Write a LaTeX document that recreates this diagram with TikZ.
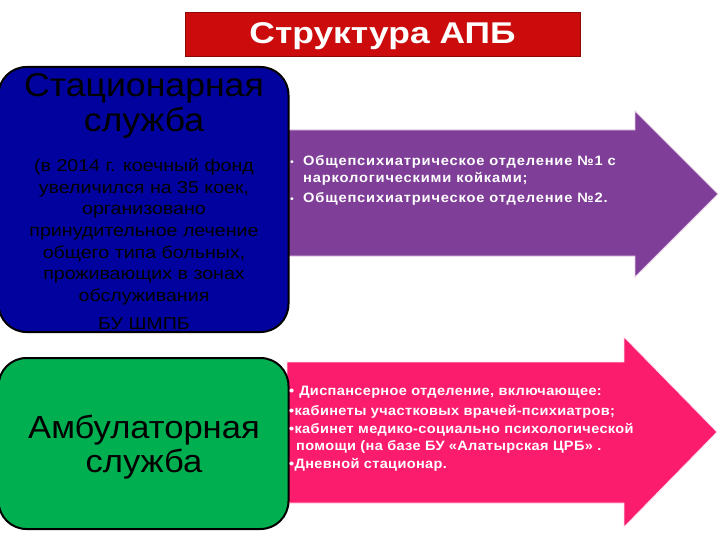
\documentclass[tikz,border=0pt]{standalone}
\usepackage{fontspec}
\setmainfont[FakeStretch=1.08]{Liberation Sans}
\newfontfamily\widefont[FakeStretch=1.18]{Liberation Sans}
\newfontfamily\bodyfont[FakeStretch=1.14]{Liberation Sans}
\newfontfamily\listfont[FakeStretch=1.07,LetterSpace=2.5]{Liberation Sans}
\newfontfamily\spacedfont[FakeStretch=1.08,LetterSpace=6]{Liberation Sans}
\definecolor{titlered}{RGB}{204,12,12}
\definecolor{boxblue}{RGB}{2,2,158}
\definecolor{arrowpurple}{RGB}{127,63,152}
\definecolor{arrowpink}{RGB}{252,28,110}
\definecolor{boxgreen}{RGB}{0,176,80}
\begin{document}
\begin{tikzpicture}[x=1pt,y=-1pt,
  servicebox/.style={draw=black, line width=2pt, rounded corners=28pt, inner sep=0pt},
  bigtext/.style={align=center, font=\fontsize{33}{35}\selectfont, text=black},
  listtext/.style={align=left, anchor=north west, text=white, inner sep=0pt, font=\listfont\bfseries\fontsize{13.6}{17.5}\selectfont},
  arrowshape/.style={draw=white!80!violet, line width=0.8pt}
]
\useasboundingbox (0,0) rectangle (720,540);
\fill[white] (0,0) rectangle (720,540);

% title
\node[fill=titlered, draw=titlered!70!black, line width=0.6pt, minimum width=395pt, minimum height=44pt, inner sep=0pt] (title) at (382.5,34) {};
\node[text=white, font=\widefont\bfseries\fontsize{30}{32}\selectfont, inner sep=0pt] (titletext) at (382.5,36) {Структура АПБ};

% purple arrow
\path[fill=arrowpurple, arrowshape] (285,130) -- (635,130) -- (635,111) -- (718,194) -- (635,277) -- (635,256) -- (285,256) -- cycle;
% pink arrow
\path[fill=arrowpink, arrowshape, draw=white!85!arrowpink] (287,362) -- (624,362) -- (624,337) -- (717,432) -- (624,527) -- (624,503) -- (287,503) -- cycle;

% stationary service box
\node[servicebox, fill=boxblue, minimum width=290pt, minimum height=265pt] (stat) at (143.5,199.5) {};
\node[bigtext] (stathead) at (144,106) {Стационарная\\служба};
\node[align=center, text=black, font=\bodyfont\fontsize{17.2}{21.7}\selectfont] (statbody) at (144,232)
  {(в 2014 г. коечный фонд\\увеличился на 35 коек,\\организовано\\принудительное лечение\\общего типа больных,\\проживающих в зонах\\обслуживания};
\node[text=black, font=\bodyfont\fontsize{17.2}{20}\selectfont, inner sep=0pt] (statbu) at (144,324) {БУ ШМПБ};

% ambulatory service box
\node[servicebox, fill=boxgreen, minimum width=290pt, minimum height=171pt] (amb) at (143.5,443.5) {};
\node[bigtext, font=\fontsize{32}{34}\selectfont] (ambhead) at (144,447) {Амбулаторная\\служба};

% purple list
\node[listtext, font=\spacedfont\bfseries\fontsize{13.6}{17.5}\selectfont] (statlist) at (290,155)
  {\makebox[13pt][l]{\normalfont\fontsize{10}{10}\selectfont•}Общепсихиатрическое отделение №1 с\\
   \hspace*{13pt}наркологическими койками;\\[2.5pt]
   \makebox[13pt][l]{\normalfont\fontsize{10}{10}\selectfont•}Общепсихиатрическое отделение №2.};

% pink list
\node[listtext] (amblist) at (289,386)
  {•\hspace{5pt}Диспансерное отделение, включающее:\\[2.5pt]
   •кабинеты участковых врачей-психиатров;\\
   •кабинет медико-социально психологической\\
   \hspace*{7pt}помощи (на базе БУ «Алатырская ЦРБ» .\\
   •Дневной стационар.};
\end{tikzpicture}
\end{document}
